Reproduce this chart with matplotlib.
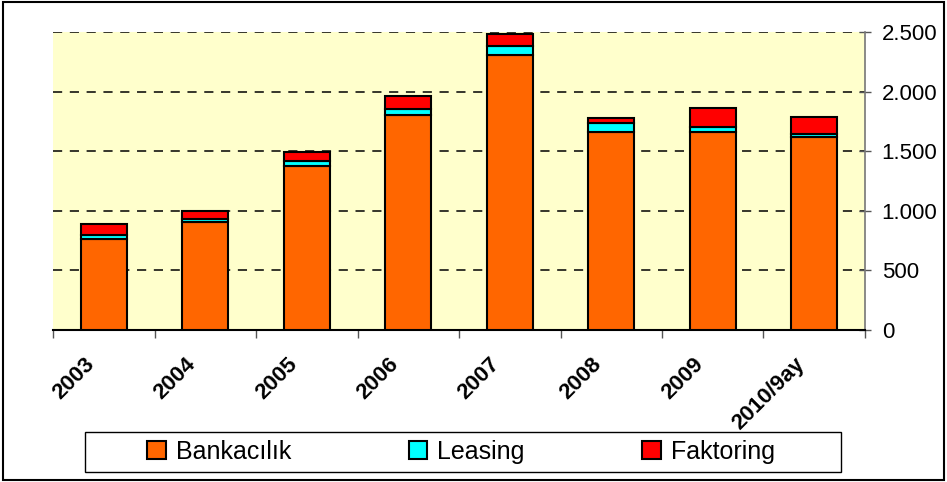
import numpy as np
import matplotlib.pyplot as plt
from matplotlib.patches import Rectangle
from matplotlib.transforms import offset_copy

# veriler
years = ["2003", "2004", "2005", "2006", "2007", "2008", "2009", "2010/9ay"]
bankacilik = [760, 905, 1378, 1805, 2310, 1660, 1660, 1620]
leasing = [40, 30, 40, 45, 73, 73, 42, 25]
faktoring = [90, 65, 73, 115, 97, 43, 162, 146]

plt.rcParams["font.family"] = ["Liberation Sans", "DejaVu Sans"]

fig = plt.figure(figsize=(9.47, 4.82), dpi=100)
ax = fig.add_axes([0.056, 0.3154, 0.8574, 0.6182])
ax.set_facecolor("#FFFFCC")

x = np.arange(len(years))
b = np.array(bankacilik)
l = np.array(leasing)
f = np.array(faktoring)
w = 0.45
kw = dict(width=w, edgecolor="black", linewidth=1.5, zorder=3)
ax.bar(x, b, color="#FF6600", label="Bankacılık", **kw)
ax.bar(x, l, bottom=b, color="#00FFFF", label="Leasing", **kw)
ax.bar(x, f, bottom=b + l, color="#FF0000", label="Faktoring", **kw)

ax.set_xlim(-0.5, len(years) - 0.5)
ax.set_ylim(0, 2500)

# y osa vpravo
ax.yaxis.tick_right()
ax.set_yticks(np.arange(0, 2501, 500))
ax.set_yticklabels(["0", "500", "1.000", "1.500", "2.000", "2.500"], fontsize=16)
ax.tick_params(axis="y", direction="inout", length=8, width=1, color="#555555", pad=8)
for yv in range(500, 2501, 500):
    ax.axhline(yv, color="black", linestyle=(0, (6, 5)), linewidth=1.1, zorder=1)

# x osa - ticky na hranicich kategorii, popisky zvlast
ax.set_xticks(np.arange(-0.5, len(years), 1.0))
ax.set_xticklabels([])
ax.tick_params(axis="x", which="major", direction="out", length=6, width=1, color="#555555")
trans = offset_copy(ax.get_xaxis_transform(), fig=fig, x=0, y=-24, units="dots")
for xi, yr in zip(x, years):
    ax.text(xi - 0.2, 0, yr, transform=trans, rotation=45, ha="right", va="top",
            rotation_mode="anchor", fontsize=16, fontweight="bold")

for side in ["top", "left"]:
    ax.spines[side].set_visible(False)
ax.spines["bottom"].set_color("black")
ax.spines["bottom"].set_linewidth(1.5)
ax.spines["right"].set_color("#777777")
ax.spines["right"].set_linewidth(1.2)

# legenda + ramecek
fig.patches.append(Rectangle((85 / 947, 1 - 472 / 482), (841 - 85) / 947, 40 / 482,
                             transform=fig.transFigure, fill=False, edgecolor="black", linewidth=1.0))
leg = fig.legend(loc="center", bbox_to_anchor=(461 / 947, 1 - 452 / 482), ncol=3, fontsize=18,
                 frameon=False, handlelength=0.75, handleheight=0.75, handletextpad=0.4,
                 columnspacing=4.7, borderaxespad=0, borderpad=0)

# ramecek kolem celeho obrazku
fig.patches.append(Rectangle((0.003, 0.004), 0.994, 0.992, transform=fig.transFigure,
                             fill=False, edgecolor="black", linewidth=1.5))

plt.savefig("out.png", dpi=100)
